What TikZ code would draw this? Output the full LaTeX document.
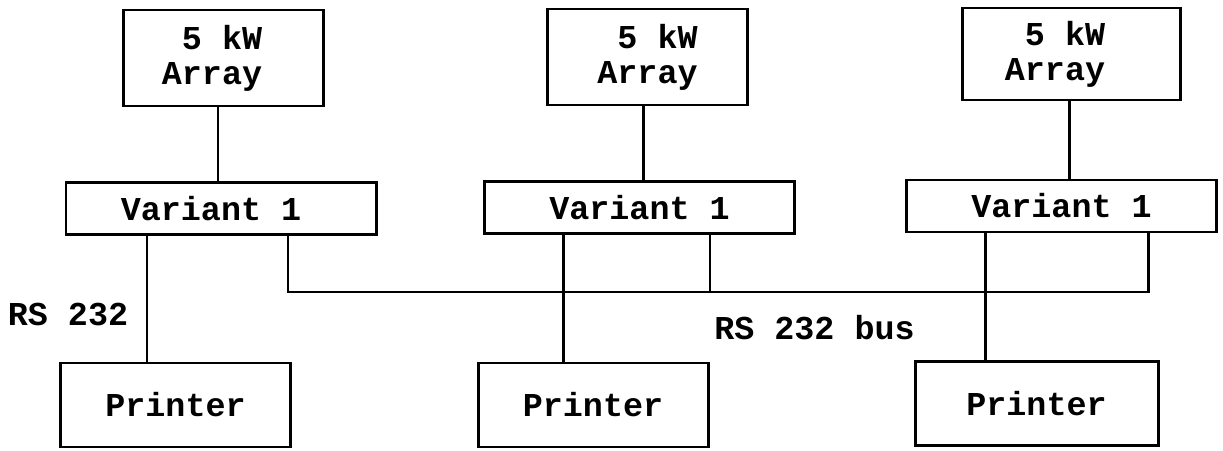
\documentclass[tikz,border=0pt]{standalone}
\usepackage{fontspec}
\newfontfamily\courfont{Liberation Mono}
\usepackage{tikz}
\usetikzlibrary{calc,positioning}

\begin{document}
\begin{tikzpicture}[
    line width=1.7pt,
    every node/.style={font=\courfont\bfseries\fontsize{19}{20}\selectfont},
    box/.style={draw, line width=1.7pt, inner sep=0pt, align=right},
    arraybox/.style={box, minimum width=4.0cm, minimum height=1.92cm},
    varbox/.style={box, minimum width=6.2cm, minimum height=1.04cm},
    prnbox/.style={box, minimum width=4.6cm, minimum height=1.68cm}
]
\useasboundingbox (0,0) rectangle (24.46,9);

% arrays
\node[arraybox] (arr1) at (4.47,7.84) {5 kW\hspace*{0.46cm}\\Array\hspace*{0.46cm}};
\node[arraybox] (arr2) at (12.95,7.86) {5 kW\\Array};
\node[arraybox, minimum width=4.36cm, minimum height=1.84cm] (arr3) at (21.42,7.92) {5 kW\hspace*{0.64cm}\\Array\hspace*{0.64cm}};

% controllers
\node[varbox] (var1) at (4.42,4.83) {Variant 1\hspace*{0.4cm}};
\node[varbox] (var2) at (12.79,4.85) {Variant 1};
\node[varbox] (var3) at (21.23,4.88) {Variant 1};

% printers
\node[prnbox] (prn1) at (3.51,0.90) {Printer};
\node[prnbox] (prn2) at (11.86,0.90) {Printer};
\node[prnbox, minimum width=4.86cm] (prn3) at (20.73,0.93) {Printer};

% line positions
\coordinate (a1) at (4.36,0);  \coordinate (p1) at (2.94,0);
\coordinate (a2) at (12.86,0); \coordinate (p2) at (11.26,0);
\coordinate (a3) at (21.38,0); \coordinate (p3) at (19.7,0);
\coordinate (busL) at (5.76,3.16);
\coordinate (tap2) at (14.2,3.16);
\coordinate (busR) at (22.96,3.16);

% array to controller
\draw (arr1.south -| a1) -- (var1.north -| a1);
\draw (arr2.south -| a2) -- (var2.north -| a2);
\draw (arr3.south -| a3) -- (var3.north -| a3);

% controller to printer
\draw (var1.south -| p1) -- (prn1.north -| p1);
\draw (var2.south -| p2) -- (prn2.north -| p2);
\draw (var3.south -| p3) -- (prn3.north -| p3);

% bus
\draw (var1.south -| busL) -- (busL) -- (busR) -- (var3.south -| busR);
\draw[line width=1.2pt] (var2.south -| tap2) -- (tap2);

\node (rs) at (1.36,2.70) {RS 232};
\node (rsbus) at (16.29,2.44) {RS 232 bus};
\end{tikzpicture}
\end{document}
